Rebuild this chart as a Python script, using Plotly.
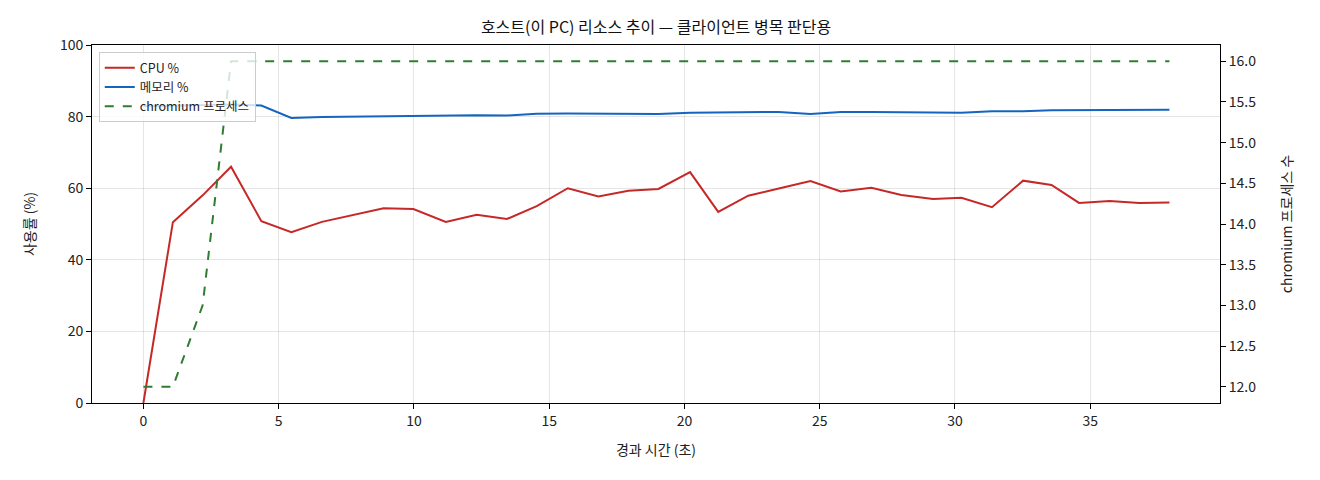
import plotly.graph_objects as go

# elapsed seconds for each sample
elapsed = [0.0, 1.09, 2.19, 3.24, 4.36, 5.47, 6.60, 7.72, 8.88, 9.98,
           11.18, 12.32, 13.44, 14.54, 15.69, 16.82, 17.93, 19.04, 20.21, 21.25,
           22.36, 23.49, 24.66, 25.78, 26.91, 28.02, 29.19, 30.24, 31.37, 32.52,
           33.57, 34.59, 35.72, 36.82, 37.93]

cpu_pct = [0.0, 50.5, 58.0, 66.0, 50.8, 47.7, 50.6, 52.5, 54.4, 54.2,
           50.6, 52.6, 51.4, 55.0, 60.0, 57.7, 59.3, 59.8, 64.5, 53.4,
           57.9, 59.9, 62.0, 59.1, 60.1, 58.1, 57.0, 57.3, 54.7, 62.1,
           60.9, 55.9, 56.4, 55.9, 56.0]

mem_pct = [82.9, 83.1, 83.2, 83.4, 83.1, 79.6, 79.9, 80.0, 80.1, 80.2,
           80.3, 80.4, 80.3, 80.8, 80.9, 80.8, 80.9, 80.7, 81.1, 81.2,
           81.1, 81.3, 80.7, 81.3, 81.3, 81.3, 81.2, 81.1, 81.5, 81.5,
           81.8, 81.8, 81.9, 81.9, 81.9]

chromium_procs = [12, 12, 13, 16, 16, 16, 16, 16, 16, 16,
                  16, 16, 16, 16, 16, 16, 16, 16, 16, 16,
                  16, 16, 16, 16, 16, 16, 16, 16, 16, 16,
                  16, 16, 16, 16, 16]

FONT = "Noto Sans CJK KR"

fig = go.Figure()
fig.add_trace(go.Scatter(x=elapsed, y=cpu_pct, mode="lines", name="CPU %",
                         line=dict(color="#c62828", width=2)))
fig.add_trace(go.Scatter(x=elapsed, y=mem_pct, mode="lines", name="메모리 %",
                         line=dict(color="#1565c0", width=2)))
fig.add_trace(go.Scatter(x=elapsed, y=chromium_procs, mode="lines", name="chromium 프로세스",
                         line=dict(color="#2e7d32", width=2, dash="dash"), yaxis="y2"))

axis_common = dict(showline=True, linecolor="black", linewidth=1, ticks="outside",
                   ticklen=5, tickcolor="black", zeroline=False,
                   tickfont=dict(size=14, color="#222"))

# page body has an 8px margin, so margins are shifted to land the plot box in place
fig.update_layout(
    width=1320, height=480,
    margin=dict(l=84, r=108, t=37, b=85),
    plot_bgcolor="white", paper_bgcolor="white",
    font=dict(family=FONT, color="#222"),
    title=dict(text="호스트(이 PC) 리소스 추이 — 클라이언트 병목 판단용",
               x=0.5, xref="paper", xanchor="center", y=0.96, yref="container",
               yanchor="middle", font=dict(size=16, color="#111")),
    xaxis=dict(range=[-1.9, 39.8], dtick=5, mirror=True,
               showgrid=True, gridcolor="rgba(0,0,0,0.1)",
               title=dict(text="경과 시간 (초)", font=dict(size=14), standoff=16),
               **axis_common),
    yaxis=dict(range=[0, 100], dtick=20, mirror=False,
               showgrid=True, gridcolor="rgba(0,0,0,0.1)",
               title=dict(text="사용률 (%)", font=dict(size=14), standoff=20),
               **axis_common),
    yaxis2=dict(range=[11.8, 16.2], dtick=0.5, tickformat=".1f", overlaying="y",
                side="right", showgrid=False,
                title=dict(text="chromium 프로세스 수", font=dict(size=14), standoff=26),
                **axis_common),
    legend=dict(x=0.006, y=0.98, xanchor="left", yanchor="top",
                bgcolor="rgba(255,255,255,0.8)", bordercolor="#ccc", borderwidth=1,
                font=dict(size=12.5), tracegroupgap=0, itemwidth=30),
    showlegend=True,
)

fig.write_html("out.html")
